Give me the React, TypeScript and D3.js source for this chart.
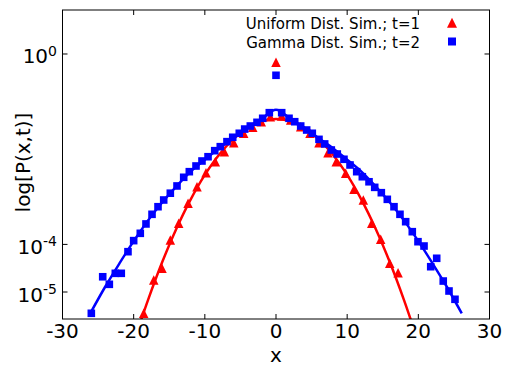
import React from 'react';
import * as d3 from 'd3';

// ---------- data ----------
const uniformX = [-18.59, -17.18, -16.02, -14.85, -13.67, -12.36, -11.1, -9.84, -8.53, -7.26, -5.94, -4.54, -3.27, -2.07, -0.8, 0, 0.8, 2.06, 3.47, 4.78, 6.04, 7.31, 8.47, 9.79, 10.96, 12.27, 13.45, 14.71, 15.98, 17.15];
const uniformP = [3.57e-6, 1.79e-5, 3.15e-5, 1.24e-4, 2.77e-4, 7.29e-4, 1.63e-3, 3.21e-3, 5.47e-3, 8.87e-3, 0.0137, 0.0216, 0.0288, 0.0378, 0.0482, 0.673, 0.0501, 0.041, 0.0297, 0.0216, 0.0137, 8.45e-3, 5.47e-3, 3.12e-3, 1.44e-3, 8.57e-4, 2.77e-4, 1.28e-4, 4.01e-5, 2.55e-5];

const gammaX = [-25.95, -24.35, -23.42, -22.58, -21.74, -20.8, -20.0, -19.07, -18.27, -17.42, -16.58, -15.78, -14.85, -13.91, -12.97, -12.18, -11.24, -10.4, -9.55, -8.61, -7.83, -6.89, -6.08, -5.16, -4.4, -3.61, -2.67, -1.87, -0.94, 0, 0.8, 1.83, 2.63, 3.47, 4.31, 5.1, 6.04, 6.84, 7.77, 8.61, 9.55, 10.4, 11.34, 12.13, 13.07, 13.87, 14.8, 15.64, 16.58, 17.42, 18.22, 19.15, 19.95, 20.8, 21.74, 22.58, 23.5, 24.31, 25.15];
const gammaP = [3.57e-6, 2.09e-5, 1.45e-5, 2.47e-5, 2.47e-5, 7.03e-5, 1.2e-4, 1.71e-4, 2.69e-4, 4.29e-4, 6.19e-4, 8.57e-4, 1.19e-3, 1.69e-3, 2.57e-3, 3.37e-3, 4.44e-3, 5.65e-3, 6.95e-3, 9.31e-3, 0.0113, 0.0144, 0.0178, 0.0216, 0.0265, 0.0307, 0.0367, 0.0446, 0.0585, 0.357, 0.0585, 0.0446, 0.0378, 0.0307, 0.0253, 0.0216, 0.0161, 0.0129, 9.62e-3, 7.92e-3, 6.14e-3, 4.66e-3, 3.37e-3, 2.64e-3, 2.07e-3, 1.58e-3, 1.22e-3, 8.85e-4, 6.19e-4, 4.29e-4, 3.0e-4, 1.85e-4, 1.14e-4, 9.25e-5, 3.4e-5, 5.11e-5, 1.7e-5, 1.05e-5, 7.03e-6];

const uniformFitX = [-19.5, -18, -16, -14, -12, -10, -8, -6, -4, -2, 0, 2, 4, 6, 8, 10, 12, 14, 16, 18, 19.5];
const uniformFitP = [1.46e-6, 6.68e-6, 4.21e-5, 2.14e-4, 8.75e-4, 2.88e-3, 7.62e-3, 0.0163, 0.028, 0.0387, 0.0432, 0.0387, 0.028, 0.0163, 7.62e-3, 2.88e-3, 8.75e-4, 2.14e-4, 4.21e-5, 6.68e-6, 1.46e-6];

const gammaFitX = [-26.1, -24, -22, -20, -18, -16, -14, -12, -10, -8, -6, -4, -2, 0, 2, 4, 6, 8, 10, 12, 14, 16, 18, 20, 22, 24, 26.1];
const gammaFitP = [3.55e-6, 1.29e-5, 3.98e-5, 1.17e-4, 3.16e-4, 7.59e-4, 1.66e-3, 3.39e-3, 6.03e-3, 0.0105, 0.017, 0.0282, 0.0437, 0.0676, 0.0437, 0.0282, 0.017, 0.0105, 6.03e-3, 3.39e-3, 1.66e-3, 7.59e-4, 3.16e-4, 1.17e-4, 3.98e-5, 1.29e-5, 3.55e-6];

const xTicks = [-30, -20, -10, 0, 10, 20, 30];
const yTicks = [1, 1e-4, 1e-5];
const yTickExp = ['0', '-4', '-5'];
const legendLabels = ['Uniform Dist. Sim.; t=1', 'Gamma Dist. Sim.; t=2'];

// ---------- layout ----------
const W = 505;
const H = 367;
const L = 62.5;
const R = 489.5;
const T = 10;
const B = 319;
const RED = '#ff0000';
const BLUE = '#0000ff';
const FONT = 'DejaVu Sans, sans-serif';

export default function App() {
  const x = d3.scaleLinear().domain([-30, 30]).range([L, R]);
  const y = d3.scaleLog().domain([2.71e-6, 8.4]).range([B, T]);

  const line = d3
    .line<[number, number]>()
    .x((d) => x(d[0]))
    .y((d) => y(d[1]))
    .curve(d3.curveCatmullRom);

  const uFit = line(uniformFitX.map((v, i) => [v, uniformFitP[i]] as [number, number])) || '';
  const gFit = line(gammaFitX.map((v, i) => [v, gammaFitP[i]] as [number, number])) || '';

  const tri = (cx: number, cy: number, s = 9.5) =>
    `M${cx},${cy - s / 2}L${cx + s / 2},${cy + s / 2}L${cx - s / 2},${cy + s / 2}Z`;
  const sq = 7.6;

  return (
    <div style={{ position: 'absolute', left: 0, top: 0 }}>
      <svg width={W} height={H} style={{ display: 'block', background: '#fff' }}>
        <defs>
          <clipPath id="plot">
            <rect x={L} y={T} width={R - L} height={B - T} />
          </clipPath>
        </defs>
        <g clipPath="url(#plot)">
          {uniformX.map((v, i) => (
            <path key={'u' + i} d={tri(x(v), y(uniformP[i]))} fill={RED} />
          ))}
          <path d={uFit} fill="none" stroke={RED} strokeWidth={2.5} />
          {gammaX.map((v, i) => (
            <rect
              key={'g' + i}
              x={x(v) - sq / 2}
              y={y(gammaP[i]) - sq / 2}
              width={sq}
              height={sq}
              fill={BLUE}
            />
          ))}
          <path d={gFit} fill="none" stroke={BLUE} strokeWidth={2.5} />
        </g>
        {/* frame */}
        <rect x={L} y={T} width={R - L} height={B - T} fill="none" stroke="#000" strokeWidth={1} />
        {/* x ticks */}
        {xTicks.map((t) => (
          <g key={'xt' + t}>
            <line x1={x(t)} x2={x(t)} y1={B} y2={B - 5} stroke="#000" strokeWidth={1} />
            <line x1={x(t)} x2={x(t)} y1={T} y2={T + 5} stroke="#000" strokeWidth={1} />
            <text x={x(t)} y={B + 19} textAnchor="middle" fontFamily={FONT} fontSize={20} fill="#000">
              {t}
            </text>
          </g>
        ))}
        {/* y ticks */}
        {yTicks.map((t, i) => (
          <g key={'yt' + i}>
            <line x1={L} x2={L + 5} y1={y(t)} y2={y(t)} stroke="#000" strokeWidth={1} />
            <line x1={R} x2={R - 5} y1={y(t)} y2={y(t)} stroke="#000" strokeWidth={1} />
            <text x={57} y={y(t) + 9.5} textAnchor="end" fontFamily={FONT} fontSize={20} fill="#000">
              10
              <tspan dy={-7.5} fontSize={14}>
                {yTickExp[i]}
              </tspan>
            </text>
          </g>
        ))}
        {/* axis labels */}
        <text x={276} y={362} textAnchor="middle" fontFamily={FONT} fontSize={20} fill="#000">
          x
        </text>
        <text
          transform="translate(30,162.5) rotate(-90)"
          textAnchor="middle"
          fontFamily={FONT}
          fontSize={20}
          fill="#000"
        >
          log[P(x,t)]
        </text>
        {/* legend */}
        <text x={420} y={29} textAnchor="end" fontFamily={FONT} fontSize={15} fill="#000">
          {legendLabels[0]}
        </text>
        <path d={tri(452, 22.7, 10)} fill={RED} />
        <text x={420} y={47.5} textAnchor="end" fontFamily={FONT} fontSize={15} fill="#000">
          {legendLabels[1]}
        </text>
        <rect x={452 - 4} y={41.5 - 4} width={8} height={8} fill={BLUE} />
      </svg>
    </div>
  );
}
